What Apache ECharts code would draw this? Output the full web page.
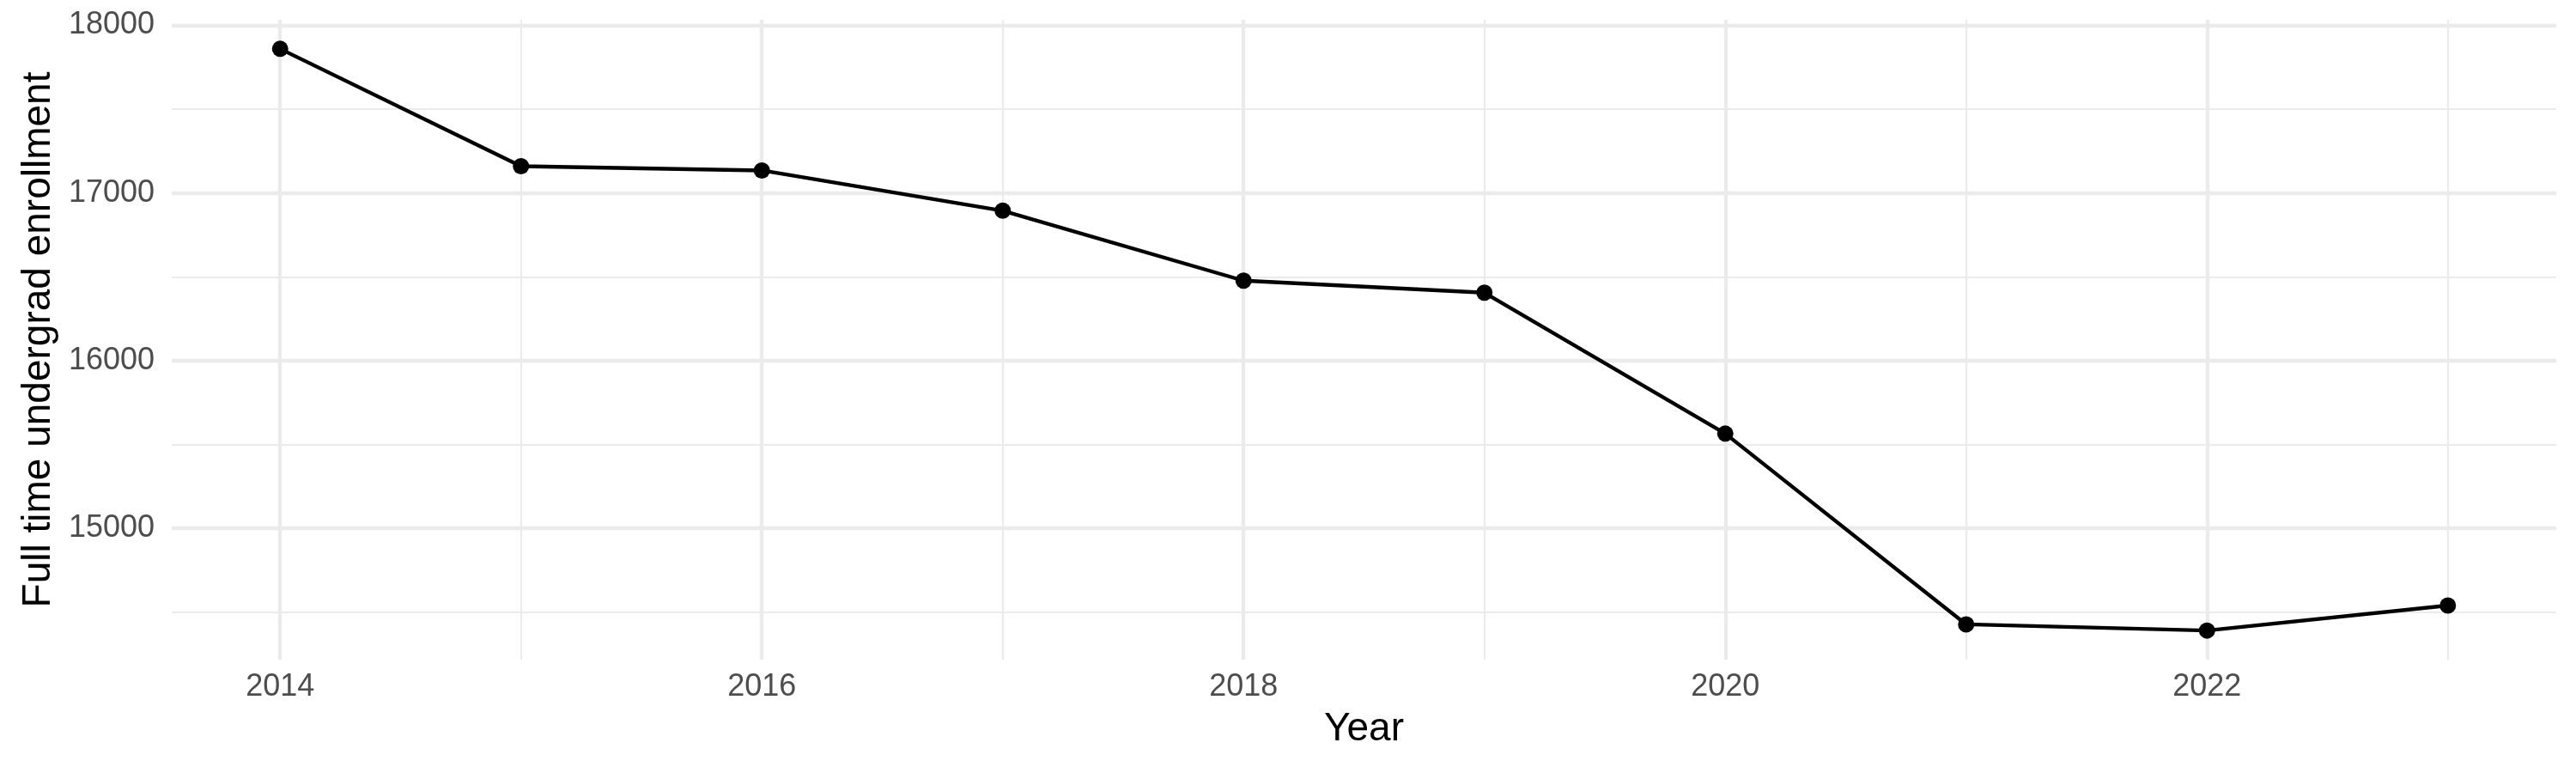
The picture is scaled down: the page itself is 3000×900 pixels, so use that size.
<!DOCTYPE html>
<html lang="en" style="height: 100%">

<head>
  <meta charset="utf-8">
</head>

<body style="height: 100%; margin: 0; background: #fff">
  <div id="container" style="height: 100%"></div>

  <script type="text/javascript" src="https://cdn.jsdelivr.net/npm/echarts@6/dist/echarts.min.js"></script>

  <script type="text/javascript">
    // data
    const years = [2014, 2015, 2016, 2017, 2018, 2019, 2020, 2021, 2022, 2023];
    const enrollment = [17859, 17159, 17134, 16894, 16477, 16405, 15565, 14428, 14391, 14540];

    // axis breaks (ggplot style: major + minor)
    const yMajor = [15000, 16000, 17000, 18000];
    const yMinor = [14500, 15500, 16500, 17500];
    const xMajor = [2014, 2016, 2018, 2020, 2022];
    const xMinor = [2015, 2017, 2019, 2021, 2023];

    // 5% expansion like ggplot
    const yLimits = [14217.6, 18032.4];
    const xLimits = [2013.55, 2023.45];

    var dom = document.getElementById('container');
    var myChart = echarts.init(dom, null, { renderer: 'canvas' });

    const gridColor = '#ebebeb';
    const font = 'Liberation Sans';

    function gridLines(values, key, width) {
      return values.map(function (v) {
        const d = { lineStyle: { width: width, color: gridColor, type: 'solid' } };
        d[key] = v;
        return d;
      });
    }

    function plain(v) {
      return String(Math.round(v));
    }

    var option = {
      animation: false,
      textStyle: { fontFamily: font },
      grid: {
        left: 200,
        right: 23,
        top: 23,
        bottom: 132
      },
      xAxis: {
        type: 'value',
        min: xLimits[0],
        max: xLimits[1],
        name: 'Year',
        nameLocation: 'middle',
        nameGap: 58,
        nameTextStyle: { fontSize: 46, color: '#000', fontFamily: font },
        axisLine: { show: false },
        axisTick: { show: false },
        splitLine: { show: false },
        axisLabel: {
          customValues: xMajor,
          formatter: plain,
          fontSize: 36,
          color: '#4d4d4d',
          margin: 14,
          fontFamily: font
        }
      },
      yAxis: {
        type: 'value',
        min: yLimits[0],
        max: yLimits[1],
        name: 'Full time undergrad enrollment',
        nameLocation: 'middle',
        nameGap: 132,
        nameMoveOverlap: false,
        nameTextStyle: { fontSize: 46, color: '#000', fontFamily: font },
        axisLine: { show: false },
        axisTick: { show: false },
        splitLine: { show: false },
        axisLabel: {
          customValues: yMajor,
          formatter: plain,
          align: 'right',
          fontSize: 36,
          color: '#4d4d4d',
          margin: 20,
          fontFamily: font
        }
      },
      series: [
        {
          // background grid, drawn under the data
          type: 'line',
          data: [],
          z: 1,
          silent: true,
          markLine: {
            silent: true,
            symbol: ['none', 'none'],
            label: { show: false },
            emphasis: { disabled: true },
            data: [].concat(
              gridLines(yMinor, 'yAxis', 2.2),
              gridLines(xMinor, 'xAxis', 2.2),
              gridLines(yMajor, 'yAxis', 4.4),
              gridLines(xMajor, 'xAxis', 4.4)
            )
          }
        },
        {
          type: 'line',
          z: 5,
          data: years.map(function (y, i) { return [y, enrollment[i]]; }),
          symbol: 'circle',
          symbolSize: 19,
          showAllSymbol: true,
          itemStyle: { color: '#000' },
          lineStyle: { color: '#000', width: 4.4 }
        }
      ]
    };

    myChart.setOption(option);

    window.addEventListener('resize', myChart.resize);
  </script>
</body>

</html>
